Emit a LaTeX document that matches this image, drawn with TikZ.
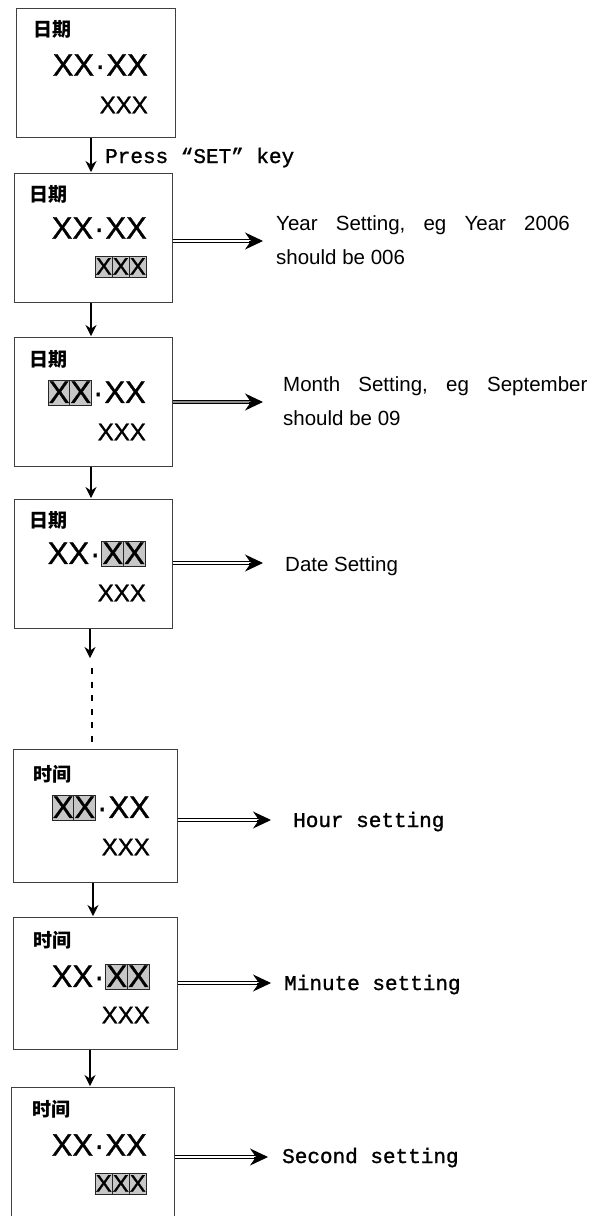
\documentclass[tikz,border=0pt]{standalone}
\usepackage{fontspec}
\usetikzlibrary{arrows.meta,calc}
\setmainfont{Liberation Sans}
\newfontfamily\cjkfont{Noto Sans CJK SC}
\newfontfamily\keyfont[FakeBold=1.2]{Liberation Mono}
\newfontfamily\digitfont[FakeBold=1]{Liberation Sans}
\newfontfamily\widefont[WordSpace=3.2]{Liberation Sans}
% a highlighted (blinking) digit cell
\newcommand\hx{{\setlength\fboxsep{0pt}\setlength\fboxrule{1pt}\fcolorbox{black!85}{black!22}{\rule[-0.08em]{0pt}{0.8em}X}}}
\newcommand\hxx{\hx\kern-1pt\hx}
\newcommand\hxxx{\hx\kern-1pt\hx\kern-1pt\hx}
\newcommand\sep{\kern1pt·\kern1pt}
\begin{document}
\begin{tikzpicture}[x=1pt,y=-1pt,
  dbox/.style={draw=black!75, line width=1.3pt, inner sep=0pt, anchor=north west},
  ttl/.style={font=\cjkfont\bfseries\fontsize{19}{19}\selectfont, inner sep=0pt, anchor=west},
  big/.style={font=\digitfont\fontsize{31}{31}\selectfont, inner sep=0pt, anchor=east},
  sml/.style={font=\digitfont\fontsize{24}{24}\selectfont, inner sep=0pt, anchor=east},
  keylab/.style={font=\keyfont\fontsize{21}{21}\selectfont, inner sep=0pt, anchor=base west},
  lab/.style={font=\fontsize{20.5}{20.5}\selectfont, inner sep=0pt, anchor=base west},
  widelab/.style={font=\widefont\fontsize{20.5}{20.5}\selectfont, inner sep=0pt, anchor=base west},
  vflow/.style={line width=1.3pt, -{Stealth[length=11pt,width=11pt]}, shorten >=1pt},
  dbl/.style={double, double distance=2.2pt, line width=0.9pt},
  head/.style={-{Stealth[length=18pt,width=17pt,inset=6pt]}, line width=0.9pt}]
\useasboundingbox (0,0) rectangle (603,1216);
\clip (0,0) rectangle (603,1216);
\fill[white] (0,0) rectangle (603,1216);

% ---- display states ----
\node[dbox, minimum width=159, minimum height=129] (b1) at (16,8) {};
\node[ttl] (b1t) at (33,29) {日期};
\node[big] (b1d) at (148,65) {XX\sep XX};
\node[sml] (b1y) at (148,105) {XXX};

\node[dbox, minimum width=158, minimum height=129] (b2) at (14,173) {};
\node[ttl] (b2t) at (29,194) {日期};
\node[big] (b2d) at (147,228) {XX\sep XX};
\node[sml] (b2y) at (147,267) {\hxxx};

\node[dbox, minimum width=158, minimum height=129] (b3) at (14,337) {};
\node[ttl] (b3t) at (29,359) {日期};
\node[big] (b3d) at (146,393) {\hxx\sep XX};
\node[sml] (b3y) at (146,432) {XXX};

\node[dbox, minimum width=158, minimum height=129] (b4) at (14,499) {};
\node[ttl] (b4t) at (29,520) {日期};
\node[big] (b4d) at (146,554) {XX\sep\hxx};
\node[sml] (b4y) at (146,593) {XXX};

\node[dbox, minimum width=164, minimum height=133] (b5) at (13,749) {};
\node[ttl] (b5t) at (33,774) {时间};
\node[big] (b5d) at (150,808) {\hxx\sep XX};
\node[sml] (b5y) at (150,847) {XXX};

\node[dbox, minimum width=164, minimum height=132] (b6) at (13,917) {};
\node[ttl] (b6t) at (33,940) {时间};
\node[big] (b6d) at (150,977) {XX\sep\hxx};
\node[sml] (b6y) at (150,1015) {XXX};

\node[dbox, minimum width=163, minimum height=160] (b7) at (11,1087) {};
\node[ttl] (b7t) at (32,1109) {时间};
\node[big] (b7d) at (147,1145) {XX\sep XX};
\node[sml] (b7y) at (147,1184) {\hxxx};

% ---- step flow ----
\coordinate (v1) at (91,0);
\coordinate (v2) at (91,0);
\coordinate (v3) at (91,0);
\coordinate (v4) at (90,0);
\coordinate (v5) at (93,0);
\coordinate (v6) at (90,0);
\draw[vflow] (b1.south -| v1) -- (b2.north -| v1);
\node[keylab] (press) at (105,163) {Press~“SET”~key};
\draw[vflow] (b2.south -| v2) -- (b3.north -| v2);
\draw[vflow] (b3.south -| v3) -- (b4.north -| v3);
\coordinate (d1) at (90,658);
\coordinate (d2) at (92,668);
\draw[vflow, shorten >=0pt] (b4.south -| v4) -- (d1);
\draw[line width=1.5pt, dash pattern=on 6pt off 7.5pt] (d2) -- (b5.north -| d2);
\draw[vflow] (b5.south -| v5) -- (b6.north -| v5);
\draw[vflow] (b6.south -| v6) -- (b7.north -| v6);

% ---- setting pointers ----
\coordinate (e2) at (263,241);
\coordinate (e3) at (263,402);
\coordinate (e4) at (263,563);
\coordinate (e5) at (271,820);
\coordinate (e6) at (271,983);
\coordinate (e7) at (268,1157);
\foreach \i in {2,4,5,6,7}{
  \draw[dbl] (b\i.east |- e\i) -- ($(e\i)+(-12,0)$);
  \draw[head] ($(e\i)+(-14,0)$) -- (e\i);
}
\draw[dbl, double=black!45] (b3.east |- e3) -- ($(e3)+(-12,0)$);
\draw[head] ($(e3)+(-14,0)$) -- (e3);

\node[widelab] (l2a) at (276,230) {Year Setting, eg Year 2006};
\node[lab] (l2b) at (276,264) {should be 006};
\node[widelab] (l3a) at (283,391) {Month Setting, eg September};
\node[lab] (l3b) at (283,425) {should be 09};
\node[lab] (l4) at (285,571) {Date Setting};
\node[keylab] (l5) at (293,827) {Hour setting};
\node[keylab] (l6) at (284,990) {Minute setting};
\node[keylab] (l7) at (282,1163) {Second setting};
\end{tikzpicture}
\end{document}
